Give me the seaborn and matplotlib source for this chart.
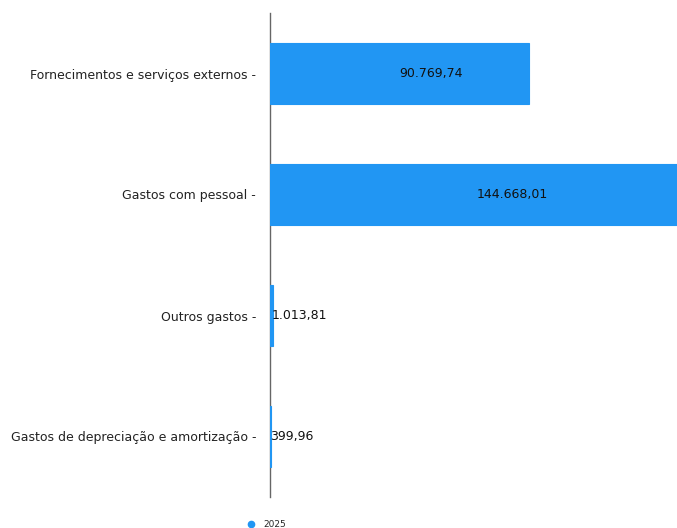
import matplotlib
matplotlib.use("Agg")
import matplotlib.pyplot as plt
import seaborn as sns
import pandas as pd
from matplotlib.lines import Line2D

categories = ["Fornecimentos e serviços externos", "Gastos com pessoal",
              "Outros gastos", "Gastos de depreciação e amortização"]
values = [90769.74, 144668.01, 1013.81, 399.96]
labels = ["90.769,74", "144.668,01", "1.013,81", "399,96"]
series = "2025"
color = "#2196f3"

df = pd.DataFrame({"cat": categories, "val": values})

sns.set_style("white")
plt.rcParams['font.family'] = ['DejaVu Sans']

fig = plt.figure(figsize=(6.77, 5.28), dpi=100)
ax = fig.add_axes([270/677, 1-497/528, 1-270/677, (497-13)/528])
sns.barplot(data=df, x="val", y="cat", orient="h", color=color, width=0.5,
            saturation=1, ax=ax, edgecolor=color, linewidth=0.8)
ax.set_xlim(0, 142700)
ax.set_ylim(3.5, -0.5)
ax.set_xlabel("")
ax.set_ylabel("")
ax.set_xticks([])
ax.set_yticks(range(len(categories)))
ax.set_yticklabels([c + " -" for c in categories], fontsize=9, color="#222222")
ax.tick_params(axis="y", length=0, pad=10)
for s in ["top", "right", "bottom"]:
    ax.spines[s].set_visible(False)
ax.spines["left"].set_color("#666666")
ax.spines["left"].set_linewidth(1)
ax.spines["left"].set_zorder(0)

for i, (v, lab) in enumerate(zip(values, labels)):
    ax.text(v/2, i, lab, ha="left", va="center", fontsize=9, color="#111111")

handle = Line2D([], [], marker="o", linestyle="", color=color, markersize=4.5)
fig.legend([handle], [series], loc="lower center", bbox_to_anchor=(0.39, -0.017),
           frameon=False, fontsize=6.5, handletextpad=0.3)

fig.savefig("out.png", dpi=100)
